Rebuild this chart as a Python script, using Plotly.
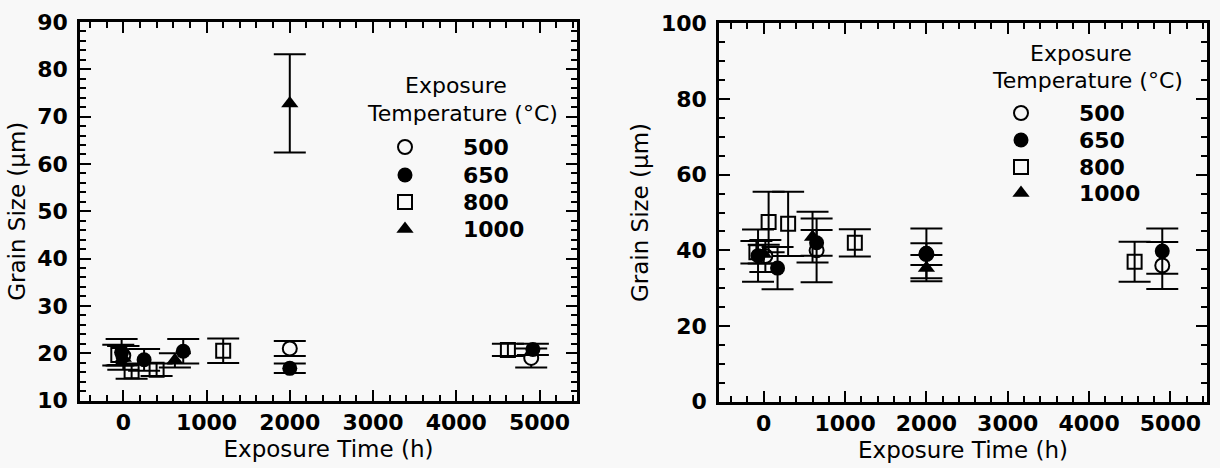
import plotly.graph_objects as go

W, H = 1220, 468
FONT = "DejaVu Sans"
BG = "#f8f8f8"

# ---------------- data ----------------
temps = ["500", "650", "800", "1000"]

# Left panel
left_500_x = [0, 2000, 4900]
left_500_y = [19.5, 21.0, 19.0]
left_500_e = [2.0, 1.6, 2.0]

left_650_x = [-20, 250, 720, 2000, 4920]
left_650_y = [20.2, 18.6, 20.4, 16.8, 20.8]
left_650_e = [2.8, 2.3, 2.6, 1.0, 1.2]

left_800_x = [-60, 100, 400, 1200, 4620]
left_800_y = [19.6, 16.2, 16.5, 20.5, 20.7]
left_800_e = [2.2, 1.6, 1.3, 2.6, 1.3]

left_1000_x = [0, 620, 2000]
left_1000_y = [19.0, 18.5, 72.8]
left_1000_e = [2.5, 1.5, 10.4]

# Right panel
right_500_x = [20, 650, 2000, 4900]
right_500_y = [38.5, 40.0, 39.0, 36.0]
right_500_e = [4.2, 8.4, 2.9, 6.2]

right_650_x = [-70, 170, 650, 2000, 4900]
right_650_y = [38.6, 35.3, 42.0, 39.2, 39.8]
right_650_e = [6.9, 5.6, 3.4, 6.6, 6.0]

right_800_x = [-90, 60, 300, 1120, 4560]
right_800_y = [39.5, 47.5, 47.0, 42.0, 37.0]
right_800_e = [3.0, 8.0, 8.5, 3.6, 5.3]

right_1000_x = [0, 600, 2000]
right_1000_y = [39.0, 43.5, 35.3]
right_1000_e = [2.5, 6.7, 3.5]

x_tick_vals = [0, 1000, 2000, 3000, 4000, 5000]
x_tick_text = ["0", "1000", "2000", "3000", "4000", "5000"]
left_y_ticks = [10, 20, 30, 40, 50, 60, 70, 80, 90]
right_y_ticks = [0, 20, 40, 60, 80, 100]

x_title = "Exposure Time (h)"
y_title = "Grain Size (µm)"
legend_title_1 = "Exposure"
legend_title_2 = "Temperature (°C)"

# ---------------- styles ----------------
STY = {
    "500": dict(symbol="circle", size=14, color=BG, line=dict(color="black", width=2)),
    "650": dict(symbol="circle", size=15, color="black", line=dict(color="black", width=0)),
    "800": dict(symbol="square-open", size=14, color="black", line=dict(color="black", width=2)),
    "1000": dict(symbol="triangle-up", size=15, color="black", line=dict(color="black", width=0)),
}

fig = go.Figure()

def add_series(xs, ys, es, temp, xa, ya):
    fig.add_trace(go.Scatter(
        x=xs, y=ys, mode="markers", xaxis=xa, yaxis=ya,
        marker=STY[temp], name=temp, showlegend=False, cliponaxis=False,
        error_y=dict(type="data", array=es, visible=True, color="black",
                     thickness=2, width=16),
    ))

order = ["500", "800", "650", "1000"]
left_data = {
    "500": (left_500_x, left_500_y, left_500_e),
    "650": (left_650_x, left_650_y, left_650_e),
    "800": (left_800_x, left_800_y, left_800_e),
    "1000": (left_1000_x, left_1000_y, left_1000_e),
}
right_data = {
    "500": (right_500_x, right_500_y, right_500_e),
    "650": (right_650_x, right_650_y, right_650_e),
    "800": (right_800_x, right_800_y, right_800_e),
    "1000": (right_1000_x, right_1000_y, right_1000_e),
}
for t in order:
    add_series(*left_data[t], t, "x", "y")
    add_series(*right_data[t], t, "x2", "y2")

# ---------------- legends (drawn on a pixel overlay axis) ----------------
legends = [
    dict(sx=405, lx=462, rows=[147, 175, 202, 229], t1=(456, 85), t2=(462, 113)),
    dict(sx=1021, lx=1078, rows=[113, 140, 167, 193], t1=(1081, 53), t2=(1087, 80)),
]
annotations = []
for lg in legends:
    for t, ry in zip(temps, lg["rows"]):
        fig.add_trace(go.Scatter(
            x=[lg["sx"]], y=[ry], mode="markers", xaxis="x3", yaxis="y3",
            marker=STY[t], showlegend=False, hoverinfo="skip", cliponaxis=False,
        ))
        annotations.append(dict(
            x=lg["lx"] / W, y=1 - ry / H, xref="paper", yref="paper",
            text=t, showarrow=False, xanchor="left", yanchor="middle", borderpad=0,
            font=dict(family=FONT, size=22, color="black", weight="bold")))
    for txt, (cx, cy) in [(legend_title_1, lg["t1"]), (legend_title_2, lg["t2"])]:
        annotations.append(dict(
            x=cx / W, y=1 - cy / H, xref="paper", yref="paper",
            text=txt, showarrow=False, xanchor="center", yanchor="middle", borderpad=0,
            font=dict(family=FONT, size=22, color="black")))

tickfont = dict(family=FONT, size=22, color="black", weight="bold")
common_x = dict(
    tickmode="array", tickvals=x_tick_vals, ticktext=x_tick_text,
    ticks="inside", ticklen=11, tickwidth=2, tickcolor="black",
    minor=dict(dtick=200, ticks="inside", ticklen=6, tickwidth=2, tickcolor="black", showgrid=False),
    showline=True, linewidth=2.5, linecolor="black", mirror="ticks",
    showgrid=False, zeroline=False, tickfont=tickfont, ticklabelstandoff=0,
    title=dict(text=x_title, font=dict(family=FONT, size=23, color="black"), standoff=8),
    fixedrange=True, automargin=False,
)
common_y = dict(
    ticks="inside", ticklen=11, tickwidth=2, tickcolor="black",
    showline=True, linewidth=2.5, linecolor="black", mirror="ticks",
    showgrid=False, zeroline=False, tickfont=tickfont, ticklabelstandoff=5,
    title=dict(text=y_title, font=dict(family=FONT, size=23, color="black"), standoff=6),
    fixedrange=True, automargin=False,
)

fig.update_layout(
    width=W, height=H,
    margin=dict(l=0, r=0, t=0, b=0, autoexpand=False),
    paper_bgcolor=BG, plot_bgcolor="rgba(0,0,0,0)",
    showlegend=False,
    xaxis=dict(domain=[80 / W, 577 / W], range=[-520, 5450], anchor="y", **common_x),
    yaxis=dict(domain=[1 - 400.5 / H, 1 - 22 / H], range=[10, 90], anchor="x",
               tickvals=left_y_ticks,
               minor=dict(dtick=2, ticks="inside", ticklen=6, tickwidth=2, tickcolor="black", showgrid=False),
               **common_y),
    xaxis2=dict(domain=[719 / W, 1207 / W], range=[-550, 5450], anchor="y2", **common_x),
    yaxis2=dict(domain=[1 - 401.7 / H, 1 - 23.3 / H], range=[0, 100], anchor="x2",
                tickvals=right_y_ticks,
                minor=dict(dtick=5, ticks="inside", ticklen=6, tickwidth=2, tickcolor="black", showgrid=False),
                **common_y),
    xaxis3=dict(domain=[0, 1], range=[0, W], anchor="y3", visible=False, fixedrange=True, automargin=False),
    yaxis3=dict(domain=[0, 1], range=[H, 0], anchor="x3", visible=False, fixedrange=True, automargin=False),
    annotations=annotations,
)

fig.write_html("out.html")
